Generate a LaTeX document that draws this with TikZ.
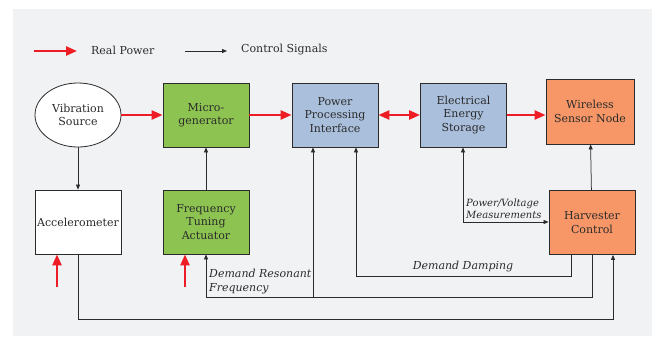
\documentclass[tikz,border=0pt]{standalone}
\usepackage{fontspec}
\setmainfont{DejaVu Serif}
\usetikzlibrary{arrows.meta,shapes.geometric}
\definecolor{bgc}{HTML}{F1F2F4}
\definecolor{gbox}{HTML}{8DC451}
\definecolor{bbox}{HTML}{A9BFDC}
\definecolor{obox}{HTML}{F79767}
\definecolor{redp}{HTML}{EE1C24}
\definecolor{txt}{HTML}{2B2B2B}
\tikzset{
  box/.style={draw=txt, line width=0.8pt, minimum width=86pt, minimum height=64pt, align=center, inner sep=0pt, text=txt},
  pw/.style={draw=redp, line width=2.4pt, -{Triangle[length=11pt,width=9pt]}},
  pwboth/.style={draw=redp, line width=2.4pt, {Triangle[length=11pt,width=9pt]}-{Triangle[length=11pt,width=9pt]}},
  ctl/.style={draw=txt, line width=0.75pt, -{Triangle[length=5pt,width=4pt]}},
  ctlboth/.style={draw=txt, line width=0.75pt, {Triangle[length=5pt,width=4pt]}-{Triangle[length=5pt,width=4pt]}},
  lab/.style={text=txt, font=\fontsize{11}{13}\selectfont\itshape, align=left, inner sep=0pt},
}
\begin{document}
\begin{tikzpicture}[x=1pt,y=-1pt, font=\fontsize{11}{13.5}\selectfont]
\useasboundingbox (0,0) rectangle (654,338);
\fill[white] (0,0) rectangle (654,338);
\fill[bgc] (13,9) rectangle (652,336);

% legend
\coordinate (l1) at (34,51); \coordinate (l2) at (77,51);
\coordinate (l3) at (185,51); \coordinate (l4) at (227,51);
\draw[pw] (l1) -- (l2);
\draw[ctl] (l3) -- (l4);
\node[anchor=west, text=txt, inner sep=0pt] (lt1) at (91,50) {Real Power};
\node[anchor=west, text=txt, inner sep=0pt] (lt2) at (241,50) {Control Signals};

% nodes
\node[ellipse, draw=txt, line width=0.8pt, fill=white, minimum width=86pt, minimum height=64pt, align=center, inner sep=1pt, text=txt] (vs) at (78,115) {Vibration\\Source};
\node[box, fill=gbox] (mg) at (206,115) {Micro-\\generator};
\node[box, fill=bbox] (ppi) at (335,115) {Power\\Processing\\Interface};
\node[box, fill=bbox] (ees) at (463.5,115) {Electrical\\Energy\\Storage};
\node[box, fill=obox, minimum width=88pt, minimum height=65pt] (wsn) at (590,111.5) {Wireless\\Sensor Node};
\node[box, fill=white] (acc) at (78,222) {Accelerometer};
\node[box, fill=gbox] (fta) at (206,222) {Frequency\\Tuning\\Actuator};
\node[box, fill=obox] (hc) at (592,222.5) {Harvester\\Control};

% real power
\draw[pw] (vs) -- (mg);
\draw[pw] (mg) -- (ppi);
\draw[pwboth] (ppi) -- (ees);
\draw[pw] (ees.east) -- (ees.east -| wsn.west);
\coordinate (r1) at (57,287);
\coordinate (r2) at (185,287);
\draw[pw] (r1) -- (r1 |- acc.south);
\draw[pw] (r2) -- (r2 |- fta.south);

% control
\draw[ctl] (vs) -- (acc);
\draw[ctl] (fta) -- (mg);
\draw[ctl] (hc) -- (wsn);

\coordinate (a1) at (613,319);
\draw[ctl] (acc.south) |- (a1) -- (a1 |- hc.south);

\coordinate (d1) at (592,297);
\coordinate (d2) at (313,297);
\draw[ctl] (hc.south) -- (d1) -| (fta.south);
\draw[ctl] (d2) -- (d2 |- ppi.south);

\coordinate (dd) at (571,276);
\coordinate (dd2) at (356,276);
\draw[ctl] (dd |- hc.south) -- (dd) -- (dd2) -- (dd2 |- ppi.south);

\coordinate (pv) at (463,222);
\draw[ctlboth] (pv |- ees.south) -- (pv) -- (pv -| hc.west);

% labels
\node[lab, anchor=south] (ldd) at (463,272) {Demand Damping};
\node[lab, anchor=south west, font=\fontsize{10}{12}\selectfont\itshape] (lpv) at (466,219) {Power/Voltage\\Measurements};
\node[lab, anchor=west, font=\fontsize{11}{14}\selectfont\itshape] (ldr) at (209,282) {Demand Resonant\\Frequency};
\end{tikzpicture}
\end{document}
